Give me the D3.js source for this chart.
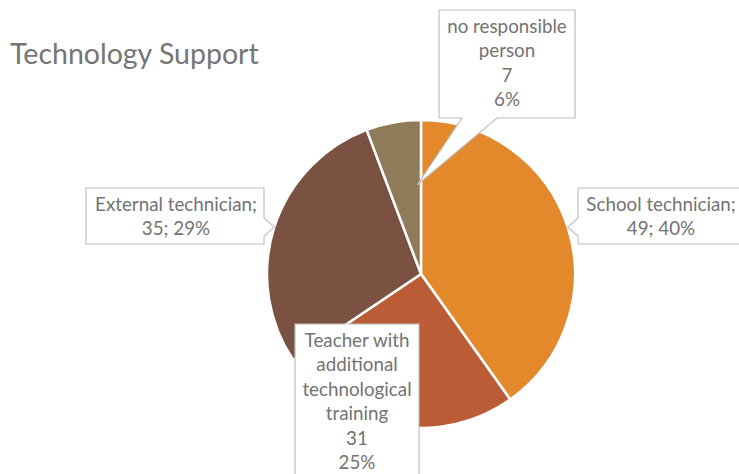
<!DOCTYPE html>
<html>
<head>
<meta charset="utf-8">
<script src="https://cdn.jsdelivr.net/npm/d3@7"></script>
<style>
  html, body { margin: 0; padding: 0; background: #fff; }
  svg { display: block; }
  text { font-family: "Lato", "Open Sans", sans-serif; }
</style>
</head>
<body>
<div id="chart"></div>
<script>
  // data
  var categories = ["School technician", "Teacher with additional technological training", "External technician", "no responsible person"];
  var values = [49, 31, 35, 7];
  var colors = ["#e3882b", "#ba5c35", "#7b5241", "#8f7b5a"];

  // label lines (how each callout breaks its text)
  var labelLines = [
    function (c, v, p) { return [c + ";", v + "; " + p]; },
    function (c, v, p) { return ["Teacher with", "additional", "technological", "training", v, p]; },
    function (c, v, p) { return [c + ";", v + "; " + p]; },
    function (c, v, p) { return ["no responsible", "person", v, p]; }
  ];

  var width = 739, height = 474;
  var cx = 421, cy = 274, radius = 154;

  var svg = d3.select("#chart").append("svg")
    .attr("width", width)
    .attr("height", height);

  svg.append("text")
    .attr("x", 10)
    .attr("y", 64)
    .style("font-size", "28.5px")
    .style("fill", "#757575")
    .text("Technology Support");

  var total = d3.sum(values);
  var fmtPct = function (v) { return Math.round(v / total * 100) + "%"; };

  var pie = d3.pie().sort(null).value(function (d) { return d; });
  var arc = d3.arc().innerRadius(0).outerRadius(radius);
  var arcs = pie(values);

  var g = svg.append("g").attr("transform", "translate(" + cx + "," + cy + ")");

  g.selectAll("path.slice")
    .data(arcs)
    .enter()
    .append("path")
    .attr("class", "slice")
    .attr("d", arc)
    .style("fill", function (d, i) { return colors[i]; })
    .style("stroke", "#fff")
    .style("stroke-width", 2.5)
    .style("stroke-linejoin", "round");

  // callout boxes: box rect, pointer side and base, pointer tip in polar (angle offset, radius factor)
  var callouts = [
    { x: 578, y: 188, w: 170, h: 56, side: "left", base: [218, 236], tipR: 1.0, tipShift: 0, tx: 661 },
    { x: 295, y: 324, w: 124, h: 160, side: null, tx: 357 },
    { x: 86, y: 188, w: 178, h: 56, side: "right", base: [218, 236], tipR: 1.0, tipShift: 0, tx: 176 },
    { x: 439, y: 10, w: 136, h: 108, side: "bottom", base: [462, 497], tipR: 0.58, tipShift: 0.14, tx: 507 }
  ];

  function polar(a, r) {
    return [cx + r * Math.sin(a), cy - r * Math.cos(a)];
  }

  function calloutPath(c, tip) {
    var x0 = c.x, y0 = c.y, x1 = c.x + c.w, y1 = c.y + c.h;
    var p = d3.path();
    p.moveTo(x0, y0);
    p.lineTo(x1, y0);
    if (c.side === "right") {
      p.lineTo(x1, c.base[0]); p.lineTo(tip[0], tip[1]); p.lineTo(x1, c.base[1]);
    }
    p.lineTo(x1, y1);
    if (c.side === "bottom") {
      p.lineTo(c.base[1], y1); p.lineTo(tip[0], tip[1]); p.lineTo(c.base[0], y1);
    }
    p.lineTo(x0, y1);
    if (c.side === "left") {
      p.lineTo(x0, c.base[1]); p.lineTo(tip[0], tip[1]); p.lineTo(x0, c.base[0]);
    }
    p.closePath();
    return p.toString();
  }

  var lineH = 24.4;

  arcs.forEach(function (d, i) {
    var c = callouts[i];
    var mid = (d.startAngle + d.endAngle) / 2 + (c.tipShift || 0);
    var tip = polar(mid, radius * (c.tipR || 1));
    svg.append("path")
      .attr("d", calloutPath(c, tip))
      .style("fill", "#fff")
      .style("stroke", "#bfbfbf")
      .style("stroke-width", 1.2);

    var lines = labelLines[i](categories[i], values[i], fmtPct(values[i]));
    var t = svg.append("text")
      .attr("text-anchor", "middle")
      .style("font-size", "18.8px")
      .style("fill", "#737373");
    lines.forEach(function (s, k) {
      t.append("tspan")
        .attr("x", c.tx)
        .attr("y", c.y + 23 + k * lineH)
        .text(s);
    });
  });
</script>
</body>
</html>
